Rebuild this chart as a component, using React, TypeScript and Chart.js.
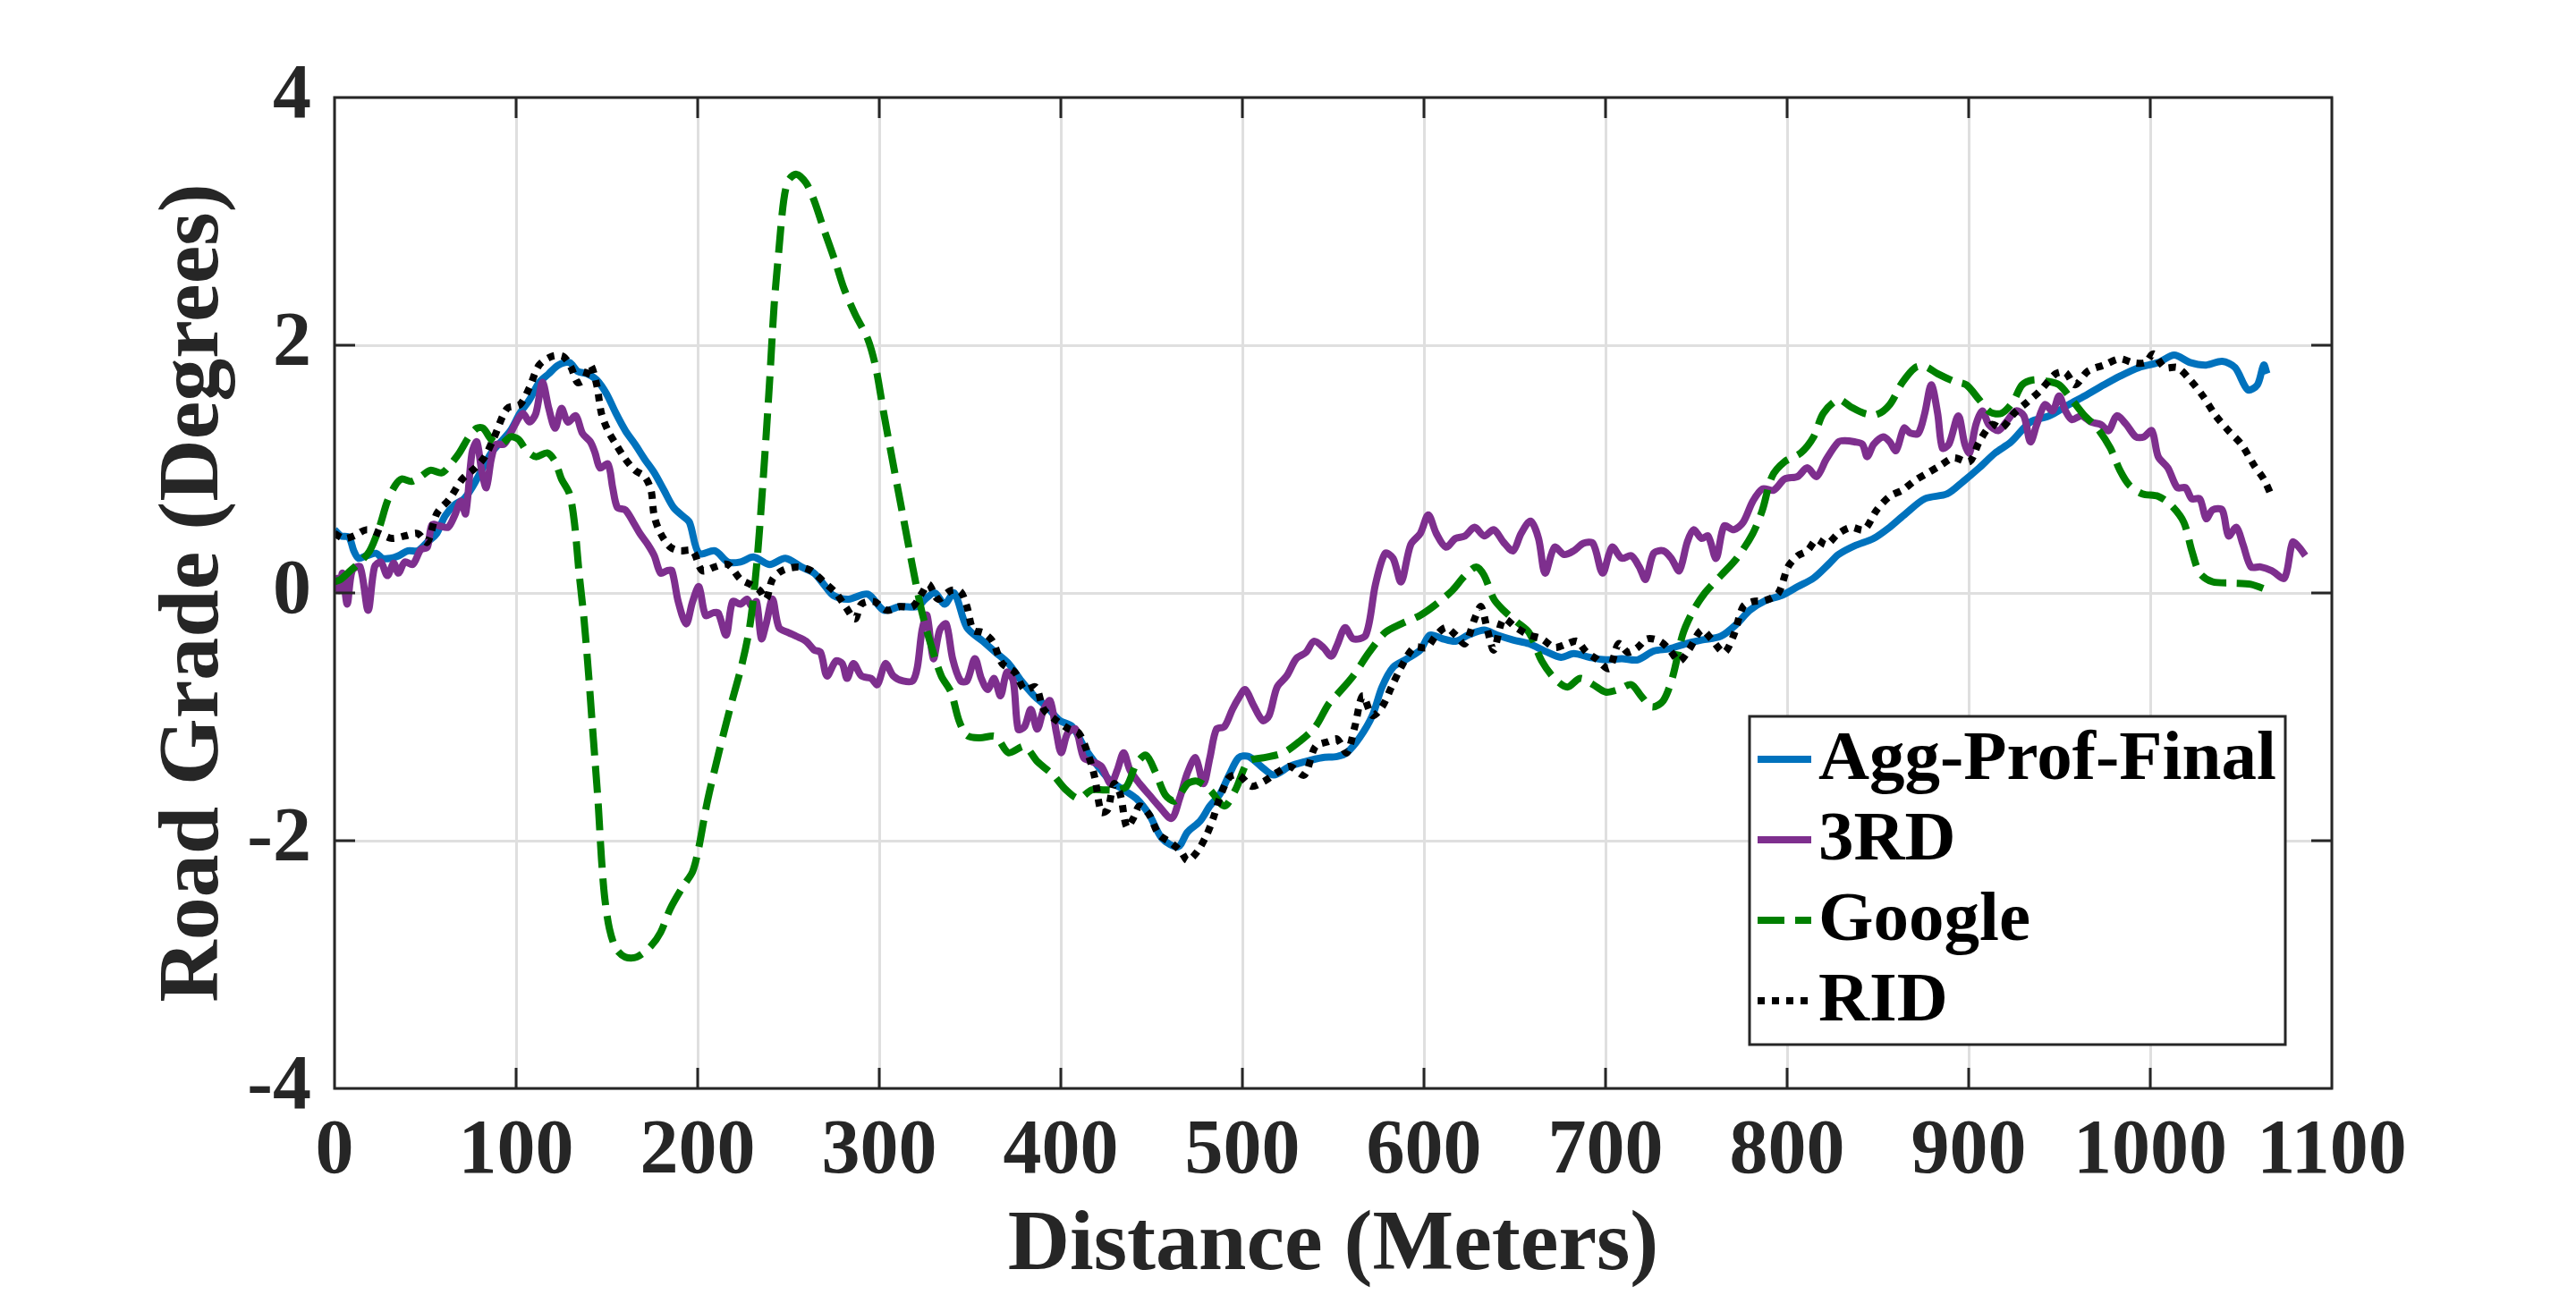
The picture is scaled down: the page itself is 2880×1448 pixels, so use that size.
import React, { useEffect, useRef } from "react";
import { Chart, registerables } from "chart.js";

Chart.register(...registerables);

// ---------- data ----------
const xTicks = [0, 100, 200, 300, 400, 500, 600, 700, 800, 900, 1000, 1100];
const yTicks = [-4, -2, 0, 2, 4];
const seriesLabels = ["Agg-Prof-Final", "3RD", "Google", "RID"];
const xTitle = "Distance (Meters)";
const yTitle = "Road Grade (Degrees)";

// [distance (m), grade (deg)]
const aggProfFinal: [number, number][] = [
  [0, 0.51], [3.5, 0.46], [7.9, 0.45], [10.6, 0.34], [13.2, 0.28], [17.6, 0.30], [22.9, 0.32], [26.4, 0.28], [30.8, 0.28], [35.2, 0.30],
  [40.5, 0.34], [45.8, 0.34], [51.1, 0.41], [56.3, 0.48], [60.8, 0.62], [66.0, 0.71], [71.3, 0.76], [75.7, 0.85], [81.0, 0.99], [86.3, 1.13],
  [91.6, 1.22], [96.9, 1.31], [102.1, 1.45], [107.4, 1.56], [112.7, 1.70], [118.0, 1.77], [123.3, 1.84], [129.4, 1.86], [133.8, 1.79], [139.1, 1.77],
  [144.4, 1.72], [149.7, 1.61], [155.0, 1.45], [160.2, 1.31], [165.5, 1.20], [170.8, 1.08], [176.1, 0.97], [181.4, 0.83], [186.7, 0.69], [191.9, 0.62],
  [195.5, 0.57], [200.7, 0.32], [209.5, 0.34], [216.6, 0.25], [223.6, 0.25], [230.7, 0.29], [239.5, 0.23], [248.3, 0.28], [257.1, 0.21], [264.1, 0.16],
  [269.4, 0.07], [274.7, -0.02],
  [283.1, -0.05], [293.7, -0.01], [302.5, -0.14], [311.3, -0.11], [321.0, -0.11], [325.4, -0.05], [330.7, 0], [336.0, -0.09], [341.3, 0], [348.3, -0.28],
  [357.1, -0.39], [364.1, -0.48], [371.2, -0.57], [378.2, -0.71], [385.3, -0.83], [392.3, -0.92], [399.4, -1.03], [406.4, -1.08], [413.5, -1.26], [420.5, -1.40],
  [427.5, -1.52], [434.6, -1.59], [441.6, -1.66], [448.7, -1.79], [455.7, -1.98], [464.5, -2.05], [469.8, -1.93], [476.8, -1.84], [482.1, -1.72], [487.4, -1.63],
  [492.7, -1.47], [498.0, -1.33], [503.3, -1.32], [510.3, -1.40], [517.3, -1.47], [526.1, -1.40], [535.0, -1.36], [543.8, -1.33], [552.2, -1.32],
  [557.5, -1.29], [564.5, -1.17], [571.6, -0.99], [576.9, -0.76], [583.0, -0.60], [590.9, -0.53], [598.0, -0.46], [603.3, -0.34], [610.3, -0.37], [617.4, -0.39],
  [624.4, -0.34], [633.2, -0.30], [640.2, -0.34], [649.1, -0.38], [657.9, -0.41], [666.7, -0.47], [675.5, -0.52], [682.5, -0.49], [691.3, -0.52], [700.1, -0.54],
  [708.9, -0.53], [717.7, -0.54], [726.5, -0.47], [735.3, -0.45], [744.1, -0.41], [752.9, -0.38], [763.5, -0.35], [772.3, -0.25], [779.4, -0.14], [788.2, -0.06],
  [797.0, -0.02], [805.8, 0.05], [814.6, 0.12], [823.4, 0.24], [828.3, 0.31],
  [837.1, 0.38], [847.7, 0.44], [856.5, 0.53], [865.3, 0.64], [875.8, 0.76], [888.2, 0.80], [897.0, 0.90], [905.8, 1.01], [914.6, 1.13], [923.4, 1.22],
  [934.0, 1.38], [944.5, 1.43], [955.1, 1.52], [963.9, 1.59], [974.5, 1.68], [983.3, 1.75], [993.8, 1.82], [1004.4, 1.86], [1013.2, 1.92], [1022.0, 1.86],
  [1030.8, 1.84], [1039.6, 1.87], [1046.7, 1.82], [1053.7, 1.64], [1059.0, 1.68], [1062.5, 1.84], [1064.3, 1.77],
];

const thirdRD: [number, number][] = [
  [0, 0.14], [2.6, 0.02], [4.4, 0.16], [7.0, -0.09], [9.7, 0.18], [14.1, 0.21], [18.5, -0.14], [22.0, 0.21], [25.5, 0.25], [29.1, 0.14],
  [32.6, 0.24], [35.2, 0.16], [38.7, 0.25], [43.1, 0.23], [47.5, 0.35], [51.1, 0.37], [53.7, 0.55], [58.1, 0.54], [62.5, 0.53], [66.0, 0.62],
  [69.6, 0.74], [72.2, 0.64], [75.7, 1.13], [78.4, 1.22], [81.0, 0.99], [83.6, 0.85], [86.3, 1.08], [88.9, 1.20], [93.3, 1.20], [97.7, 1.31],
  [101.3, 1.41], [103.9, 1.45], [107.4, 1.38], [110.9, 1.45], [114.5, 1.70], [118.0, 1.49], [121.5, 1.33], [125.0, 1.49], [128.5, 1.38], [132.9, 1.43],
  [136.5, 1.29], [140.9, 1.22], [143.5, 1.13], [146.2, 1.01], [150.6, 1.04], [153.2, 0.85], [155.8, 0.69], [160.2, 0.67], [164.6, 0.57], [168.2, 0.48],
  [172.6, 0.39], [176.1, 0.30], [179.6, 0.16], [183.1, 0.18], [185.8, 0.18], [189.3, -0.07], [193.7, -0.25], [197.2, -0.07], [200.7, 0.05], [204.3, -0.18],
  [208.7, -0.16], [211.3, -0.16], [215.7, -0.34], [219.2, -0.07], [223.6, -0.09], [227.2, -0.05], [229.8, -0.11], [232.4, -0.07], [235.1, -0.37], [237.7, -0.25],
  [241.2, -0.05], [244.8, -0.28], [250.0, -0.32], [254.4, -0.35], [259.7, -0.39], [264.1, -0.46], [267.7, -0.48], [271.2, -0.67], [276.1, -0.55],
  [279.6, -0.57], [282.3, -0.69], [285.8, -0.57], [290.2, -0.67], [295.5, -0.69], [299.0, -0.74], [303.4, -0.57], [307.8, -0.67], [313.1, -0.71], [318.4, -0.71],
  [321.0, -0.60], [323.6, -0.30], [326.3, -0.18], [329.8, -0.53], [333.3, -0.30], [336.9, -0.25], [340.4, -0.53], [344.8, -0.71], [348.3, -0.71], [352.7, -0.53],
  [356.2, -0.69], [359.7, -0.78], [363.3, -0.69], [366.8, -0.83], [370.3, -0.64], [373.8, -0.71], [376.5, -1.10], [380.0, -1.08], [383.5, -0.94], [387.0, -1.10],
  [390.6, -0.94], [394.1, -0.87], [397.6, -1.13], [400.2, -1.29], [403.8, -1.13], [408.2, -1.10], [412.6, -1.33], [417.0, -1.36], [422.3, -1.40], [427.5, -1.54],
  [431.1, -1.43], [434.6, -1.29], [438.1, -1.43], [443.4, -1.54], [448.7, -1.63], [454.0, -1.72], [461.0, -1.82], [465.4, -1.66], [469.8, -1.45], [474.2, -1.33],
  [478.6, -1.54], [482.1, -1.33], [485.7, -1.10], [490.1, -1.08], [494.5, -0.94], [497.9, -0.85], [501.5, -0.78], [505.9, -0.90], [511.2, -1.03], [514.7, -0.99],
  [519.1, -0.76], [524.4, -0.67], [529.7, -0.53], [535.0, -0.48], [539.4, -0.39], [544.6, -0.44], [549.0, -0.51], [552.2, -0.42],
  [556.6, -0.28], [561.0, -0.37], [568.0, -0.34], [573.3, 0.07], [578.6, 0.32], [583.0, 0.28], [587.4, 0.09], [592.7, 0.39], [598.0, 0.48], [602.4, 0.63],
  [606.8, 0.48], [612.1, 0.37], [617.4, 0.44], [622.6, 0.46], [627.9, 0.53], [633.2, 0.46], [638.5, 0.51], [643.8, 0.41], [649.1, 0.34], [653.5, 0.48],
  [658.7, 0.58], [663.1, 0.44], [666.7, 0.16], [671.9, 0.37], [677.2, 0.31], [682.5, 0.34], [687.8, 0.40], [693.1, 0.40], [698.4, 0.16], [703.6, 0.37],
  [708.9, 0.28], [714.2, 0.30], [718.6, 0.21], [722.1, 0.11], [726.5, 0.32], [731.8, 0.34], [736.2, 0.28], [740.6, 0.18], [745.0, 0.41], [748.5, 0.51],
  [752.9, 0.44], [756.5, 0.46], [760.9, 0.28], [765.3, 0.54], [770.6, 0.51], [775.8, 0.57], [781.1, 0.74], [786.4, 0.84], [792.6, 0.83], [798.7, 0.92],
  [805.8, 0.94], [811.1, 1.01], [816.3, 0.94], [821.6, 1.08], [828.3, 1.22],
  [831.8, 1.23], [837.1, 1.22], [841.5, 1.20], [844.1, 1.10], [847.7, 1.20], [853.0, 1.26], [856.5, 1.22], [860.0, 1.15], [864.4, 1.33], [867.9, 1.29],
  [872.3, 1.29], [875.8, 1.45], [879.4, 1.68], [882.9, 1.45], [885.5, 1.17], [889.1, 1.20], [894.3, 1.43], [897.9, 1.20], [900.5, 1.13], [904.0, 1.36],
  [907.5, 1.47], [911.1, 1.36], [916.3, 1.31], [920.7, 1.38], [926.0, 1.47], [930.4, 1.43], [934.0, 1.22], [937.5, 1.36], [941.9, 1.52], [946.3, 1.47],
  [949.8, 1.59], [953.3, 1.47], [956.8, 1.40], [962.1, 1.43], [967.4, 1.38], [972.7, 1.36], [977.1, 1.31], [981.5, 1.43], [986.8, 1.36], [992.1, 1.26],
  [996.5, 1.26], [1000.9, 1.31], [1004.4, 1.10], [1009.7, 1.01], [1014.9, 0.85], [1019.4, 0.85], [1022.9, 0.76], [1027.3, 0.76], [1030.8, 0.60], [1034.3, 0.67],
  [1039.6, 0.67], [1043.1, 0.46], [1047.5, 0.53], [1051.1, 0.39], [1055.5, 0.21], [1060.7, 0.21], [1066.9, 0.18], [1073.9, 0.12], [1078.4, 0.41], [1081.9, 0.37],
  [1085.4, 0.30],
];

const google: [number, number][] = [
  [0, 0.09], [3.5, 0.11], [8.8, 0.18], [14.1, 0.25], [19.4, 0.34], [24.7, 0.53], [29.1, 0.74], [33.5, 0.87], [37.0, 0.92], [42.3, 0.90],
  [47.5, 0.94], [52.8, 0.99], [59.0, 0.97], [63.4, 1.03], [68.7, 1.13], [74.0, 1.26], [78.4, 1.33], [81.9, 1.33], [86.3, 1.24], [91.6, 1.20],
  [96.9, 1.26], [101.3, 1.24], [105.7, 1.15], [110.9, 1.10], [117.1, 1.13], [121.5, 1.06], [125.0, 0.92], [129.4, 0.80], [132.1, 0.57], [134.7, 0.16],
  [137.4, -0.21], [140.0, -0.67], [141.8, -1.03], [143.5, -1.36], [145.3, -1.72], [147.0, -2.14], [148.8, -2.46], [151.4, -2.71], [155.0, -2.87], [160.2, -2.94],
  [166.4, -2.94], [174.3, -2.85], [179.6, -2.74], [184.9, -2.55], [191.9, -2.37], [197.2, -2.25], [200.7, -2.05], [205.1, -1.70], [211.3, -1.31], [218.4, -0.90],
  [224.5, -0.57], [228.9, -0.25], [232.4, 0.21], [236.0, 0.90], [239.5, 1.68], [242.1, 2.32], [244.8, 2.78], [247.4, 3.17], [250.0, 3.33], [254.4, 3.38],
  [259.7, 3.31], [264.1, 3.17], [269.4, 2.94], [276.1, 2.66],
  [280.5, 2.46], [286.7, 2.25], [293.7, 2.05], [298.1, 1.82], [302.5, 1.45], [307.8, 1.03], [313.1, 0.62], [318.4, 0.21], [323.6, -0.16], [328.9, -0.44],
  [334.2, -0.67], [339.5, -0.80], [343.9, -1.03], [348.3, -1.15], [355.3, -1.17], [364.1, -1.16], [371.2, -1.29], [380.0, -1.24], [387.0, -1.36], [395.8, -1.47],
  [402.9, -1.59], [409.9, -1.66], [417.0, -1.59], [424.0, -1.59], [431.1, -1.59], [436.3, -1.56], [441.6, -1.38], [446.9, -1.31], [452.2, -1.45], [457.5, -1.63],
  [462.8, -1.68], [469.8, -1.54], [475.1, -1.52], [482.1, -1.59], [490.1, -1.72], [496.2, -1.59], [503.3, -1.36], [512.1, -1.33], [522.6, -1.29], [531.4, -1.20],
  [540.2, -1.08], [547.3, -0.90], [552.2, -0.82],
  [561.0, -0.67], [569.8, -0.48], [578.6, -0.32], [587.4, -0.25], [598.0, -0.18], [606.8, -0.09], [615.6, 0.02], [622.6, 0.14], [628.8, 0.21], [633.2, 0.14],
  [638.5, -0.05], [643.8, -0.14], [650.8, -0.23], [657.9, -0.32], [664.9, -0.55], [671.9, -0.69], [679.0, -0.76], [686.0, -0.69], [693.1, -0.74], [700.1, -0.80],
  [707.2, -0.78], [714.2, -0.74], [719.5, -0.83], [725.6, -0.92], [731.8, -0.87], [737.1, -0.67], [742.4, -0.34], [747.7, -0.16], [754.7, 0.00], [763.5, 0.14],
  [772.3, 0.28], [781.1, 0.48], [786.4, 0.67], [791.7, 0.94], [798.7, 1.06], [807.5, 1.13], [814.6, 1.26], [819.9, 1.45], [828.3, 1.56],
  [835.3, 1.50], [842.4, 1.45], [849.4, 1.44], [856.5, 1.52], [863.5, 1.70], [870.6, 1.82], [875.8, 1.83], [882.9, 1.77], [891.7, 1.71], [898.7, 1.68],
  [905.8, 1.56], [911.9, 1.46], [918.1, 1.45], [924.3, 1.54], [929.5, 1.68], [935.7, 1.72], [942.8, 1.71], [949.8, 1.68], [956.8, 1.56], [963.9, 1.43],
  [970.9, 1.33], [978.0, 1.17], [983.3, 0.99], [988.5, 0.87], [995.6, 0.80], [1004.4, 0.78], [1011.4, 0.71], [1018.5, 0.57], [1022.9, 0.34], [1027.3, 0.16],
  [1034.3, 0.09], [1044.9, 0.08], [1055.5, 0.07], [1065.1, 0.02],
];

const rid: [number, number][] = [
  [0, 0.48], [5.3, 0.44], [10.6, 0.46], [17.6, 0.51], [24.7, 0.48], [31.7, 0.44], [38.7, 0.46], [45.8, 0.48], [51.1, 0.41], [56.3, 0.64],
  [63.4, 0.76], [70.4, 0.92], [77.5, 1.01], [82.8, 1.10], [88.0, 1.26], [95.1, 1.49], [102.1, 1.52], [107.4, 1.66], [112.7, 1.84], [119.7, 1.91],
  [125.9, 1.91], [130.3, 1.82], [133.8, 1.70], [137.4, 1.72], [140.9, 1.84], [144.4, 1.68], [147.0, 1.45], [150.6, 1.31], [155.0, 1.20], [160.2, 1.08],
  [165.5, 0.99], [170.8, 0.94], [174.3, 0.83], [176.1, 0.62], [179.6, 0.48], [184.9, 0.37], [190.2, 0.34], [197.2, 0.34], [202.5, 0.18], [209.5, 0.21],
  [216.6, 0.23], [223.6, 0.11], [228.9, 0.07], [234.2, 0.02], [237.7, -0.05], [241.2, 0.11], [246.5, 0.18], [255.3, 0.21], [262.4, 0.18], [269.4, 0.09],
  [276.1, 0],
  [281.4, -0.11], [286.7, -0.21], [290.2, -0.09], [297.2, -0.07], [304.3, -0.14], [311.3, -0.11], [318.4, -0.11], [323.6, 0.0], [327.2, 0.07], [332.4, -0.05],
  [339.5, 0.02], [344.8, 0.01], [348.3, -0.11], [351.8, -0.30], [357.1, -0.32], [362.4, -0.39], [367.7, -0.57], [374.7, -0.64], [380.0, -0.78], [386.2, -0.76],
  [390.6, -0.94], [397.6, -1.03], [404.6, -1.10], [409.9, -1.13], [415.2, -1.31], [418.7, -1.49], [422.3, -1.77], [425.8, -1.75], [429.3, -1.54], [432.8, -1.63],
  [436.3, -1.89], [439.9, -1.82], [443.4, -1.72], [448.7, -1.79], [454.0, -1.95], [461.0, -2.02], [466.3, -2.09], [469.8, -2.16], [475.1, -2.09], [480.4, -1.95],
  [483.9, -1.82], [487.4, -1.66], [492.7, -1.49], [498.0, -1.47], [505.0, -1.56], [512.1, -1.52], [519.1, -1.45], [526.1, -1.40], [534.1, -1.47], [540.2, -1.24],
  [547.3, -1.20], [552.2, -1.18],
  [557.5, -1.29], [561.9, -1.08], [566.3, -0.83], [571.6, -0.99], [576.9, -0.92], [582.1, -0.76], [587.4, -0.60], [594.5, -0.44], [601.5, -0.44], [606.8, -0.34],
  [612.1, -0.28], [617.4, -0.34], [622.6, -0.41], [627.9, -0.21], [631.4, -0.11], [635.0, -0.30], [638.5, -0.46], [643.8, -0.21], [650.8, -0.28], [657.9, -0.34],
  [664.9, -0.37], [671.9, -0.44], [679.0, -0.41], [684.3, -0.39], [689.6, -0.48], [694.8, -0.53], [701.9, -0.61], [707.2, -0.41], [712.4, -0.48], [717.7, -0.44],
  [723.0, -0.37], [730.0, -0.39], [735.3, -0.46], [740.6, -0.55], [745.9, -0.46], [752.9, -0.30], [758.2, -0.37], [765.3, -0.48], [770.6, -0.34], [775.8, -0.11],
  [781.1, -0.07], [788.2, -0.06], [795.2, 0.0], [800.5, 0.21], [805.8, 0.30], [811.1, 0.34], [816.3, 0.43], [821.6, 0.39], [828.3, 0.48],
  [835.3, 0.53], [842.4, 0.51], [849.4, 0.67], [856.5, 0.78], [863.5, 0.83], [870.6, 0.91], [877.6, 0.97], [884.6, 1.03], [891.7, 1.09], [900.5, 1.06],
  [905.8, 1.22], [912.8, 1.36], [918.1, 1.33], [925.1, 1.45], [932.2, 1.54], [939.2, 1.63], [948.0, 1.77], [953.3, 1.78], [958.6, 1.68], [965.6, 1.79],
  [974.5, 1.84], [983.3, 1.89], [990.3, 1.86], [997.3, 1.86], [1001.7, 1.93], [1007.9, 1.82], [1014.9, 1.82], [1022.0, 1.72], [1029.0, 1.59], [1036.1, 1.43],
  [1043.1, 1.31], [1050.2, 1.20], [1057.2, 1.03], [1062.5, 0.92], [1066.9, 0.78],
];

// ---------- styles ----------
const FONT = "'Liberation Serif', 'Times New Roman', Times, serif";
const AXIS_COLOR = "#262626";
const GRID_COLOR = "#dfdfdf";

const toPoints = (s: [number, number][]) => s.map(([x, y]) => ({ x, y }));

const framePlugin = {
  id: "matlabFrame",
  afterDraw(chart: any) {
    const { ctx, chartArea: a, scales } = chart;
    const tl = 23;
    ctx.save();
    ctx.setLineDash([]);
    ctx.strokeStyle = AXIS_COLOR;
    ctx.lineWidth = 3;
    ctx.lineCap = "butt";
    ctx.beginPath();
    for (const v of xTicks.slice(1, -1)) {
      const px = scales.x.getPixelForValue(v);
      ctx.moveTo(px, a.bottom);
      ctx.lineTo(px, a.bottom - tl);
      ctx.moveTo(px, a.top);
      ctx.lineTo(px, a.top + tl);
    }
    for (const v of yTicks.slice(1, -1)) {
      const py = scales.y.getPixelForValue(v);
      ctx.moveTo(a.left, py);
      ctx.lineTo(a.left + tl, py);
      ctx.moveTo(a.right, py);
      ctx.lineTo(a.right - tl, py);
    }
    ctx.stroke();
    ctx.strokeRect(a.left, a.top, a.right - a.left, a.bottom - a.top);

    // legend box (MATLAB style, inside the axes, bottom-right)
    const boxRight = a.right - 52;
    const boxBottom = a.bottom - 49;
    const boxW = 599;
    const boxH = 367;
    const bl = boxRight - boxW;
    const bt = boxBottom - boxH;
    ctx.fillStyle = "#ffffff";
    ctx.fillRect(bl, bt, boxW, boxH);
    ctx.strokeStyle = AXIS_COLOR;
    ctx.lineWidth = 3;
    ctx.strokeRect(bl, bt, boxW, boxH);
    chart.data.datasets.forEach((ds: any, i: number) => {
      const y = bt + 48 + i * 90;
      ctx.save();
      ctx.setLineDash(ds.borderDash || []);
      ctx.strokeStyle = ds.borderColor;
      ctx.lineWidth = ds.borderWidth;
      ctx.lineCap = "butt";
      ctx.beginPath();
      ctx.moveTo(bl + 9, y);
      ctx.lineTo(bl + 69, y);
      ctx.stroke();
      ctx.restore();
      ctx.fillStyle = "#000000";
      ctx.font = `bold 79px ${FONT}`;
      ctx.textAlign = "left";
      ctx.textBaseline = "middle";
      ctx.fillText(ds.label, bl + 77, y + 2);
    });
    ctx.restore();
  },
};

export default function App() {
  const canvasRef = useRef<HTMLCanvasElement | null>(null);

  useEffect(() => {
    document.body.style.margin = "0";
    const canvas = canvasRef.current;
    if (!canvas) return;
    const common = {
      pointRadius: 0,
      borderWidth: 8,
      tension: 0.3,
      fill: false,
      borderCapStyle: "butt",
      borderJoinStyle: "round",
    };
    const chart = new Chart(canvas, {
      type: "line",
      data: {
        datasets: [
          { ...common, label: seriesLabels[0], data: toPoints(aggProfFinal), borderColor: "#0072BD", order: 3 },
          { ...common, label: seriesLabels[1], data: toPoints(thirdRD), borderColor: "#7E2F8E", order: 2 },
          { ...common, label: seriesLabels[2], data: toPoints(google), borderColor: "#008000", borderDash: [30, 12], order: 1 },
          { ...common, label: seriesLabels[3], data: toPoints(rid), borderColor: "#000000", borderDash: [8, 8], order: 0 },
        ] as any,
      },
      options: {
        responsive: false,
        animation: false,
        devicePixelRatio: 1,
        layout: { padding: { top: 109, right: 273, left: 0, bottom: 0 } },
        plugins: {
          legend: { display: false },
          tooltip: { enabled: false },
        },
        scales: {
          x: {
            type: "linear",
            min: 0,
            max: 1100,
            afterBuildTicks: (s: any) => {
              s.ticks = xTicks.map((v) => ({ value: v }));
            },
            afterFit: (s: any) => {
              s.height = 231;
            },
            grid: { color: GRID_COLOR, lineWidth: 3, drawTicks: false },
            border: { display: false },
            ticks: {
              padding: 29,
              color: AXIS_COLOR,
              autoSkip: false,
              maxRotation: 0,
              minRotation: 0,
              font: { family: FONT, size: 86, weight: "bold", lineHeight: 1 },
              callback: (v: any) => String(v),
            },
            title: {
              display: true,
              text: xTitle,
              color: AXIS_COLOR,
              font: { family: FONT, size: 96, weight: "bold", lineHeight: 1 },
              padding: { top: 0, bottom: 6 },
            },
          },
          y: {
            type: "linear",
            min: -4,
            max: 4,
            afterBuildTicks: (s: any) => {
              s.ticks = yTicks.map((v) => ({ value: v }));
            },
            afterFit: (s: any) => {
              s.width = 374;
            },
            grid: { color: GRID_COLOR, lineWidth: 3, drawTicks: false },
            border: { display: false },
            ticks: {
              padding: 26,
              color: AXIS_COLOR,
              font: { family: FONT, size: 86, weight: "bold", lineHeight: 1 },
              callback: (v: any) => String(v),
            },
            title: {
              display: true,
              text: yTitle,
              color: AXIS_COLOR,
              font: { family: FONT, size: 96, weight: "bold", lineHeight: 1 },
              padding: { top: 170, bottom: 0 },
            },
          },
        },
      } as any,
      plugins: [framePlugin],
    });
    return () => chart.destroy();
  }, []);

  return (
    <div style={{ position: "absolute", left: 0, top: 0, width: 2880, height: 1448, background: "#ffffff" }}>
      <canvas ref={canvasRef} width={2880} height={1448} style={{ display: "block", width: 2880, height: 1448 }} />
    </div>
  );
}
